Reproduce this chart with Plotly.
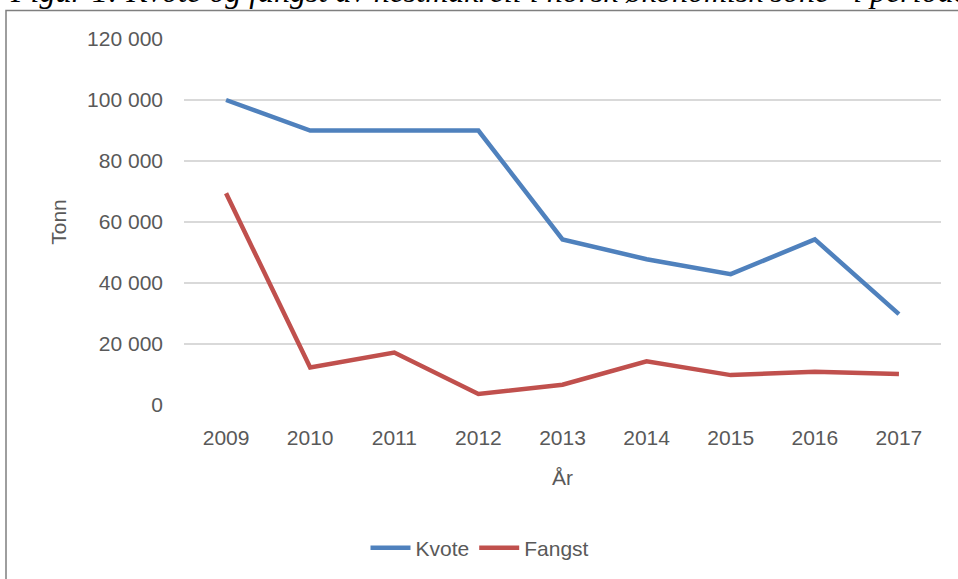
import plotly.graph_objects as go

years = ["2009", "2010", "2011", "2012", "2013", "2014", "2015", "2016", "2017"]
kvote = [100000, 90000, 90000, 90000, 54300, 47800, 42900, 54300, 29800]
fangst = [69400, 12300, 17200, 3600, 6650, 14300, 9800, 10900, 10150]
y_ticks = [0, 20000, 40000, 60000, 80000, 100000, 120000]
y_ticktext = ["0", "20 000", "40 000", "60 000", "80 000", "100 000", "120 000"]

W, H = 958, 579
L, R, T, B = 184, 17, 39, 173
pw, ph = W - L - R, H - T - B

def px(x):
    return (x - L) / pw

def py(y):
    return 1 + (T - y) / ph

font = "Liberation Sans"
grey = "#595959"

fig = go.Figure()
fig.add_trace(go.Scatter(x=years, y=kvote, name="Kvote", mode="lines",
                         line=dict(color="#4F81BD", width=4.5)))
fig.add_trace(go.Scatter(x=years, y=fangst, name="Fangst", mode="lines",
                         line=dict(color="#C0504D", width=4.5)))

fig.update_layout(
    width=W, height=H,
    margin=dict(l=L, r=R, t=T, b=B),
    paper_bgcolor="white", plot_bgcolor="white",
    font=dict(family=font, size=21, color=grey),
    showlegend=True,
    legend=dict(orientation="h", x=px(480), xanchor="center", y=py(548), yanchor="middle",
                font=dict(size=21, color=grey), itemwidth=40, bgcolor="rgba(0,0,0,0)"),
    xaxis=dict(type="category", range=[-0.5, 8.5], showgrid=False, zeroline=False,
               showline=False, ticks="", ticklabelstandoff=18,
               title=dict(text="År", font=dict(size=21, color=grey), standoff=22)),
    yaxis=dict(range=[0, 120000], tickvals=y_ticks, ticktext=y_ticktext,
               showgrid=True, gridcolor="#D9D9D9", gridwidth=1.5, zeroline=False,
               showline=False, ticks="", ticklabelstandoff=20,
               title=dict(text="Tonn", font=dict(size=21, color=grey), standoff=14)),
    shapes=[dict(type="rect", xref="paper", yref="paper",
                 x0=px(6), x1=px(1000), y0=py(10.5), y1=py(700),
                 line=dict(color="#7F7F7F", width=1.5), fillcolor="rgba(0,0,0,0)", layer="below")],
    annotations=[dict(text="Figur 1: Kvote og fangst av hestmakrell i norsk økonomisk sone* i perioden 2009-2017",
                      xref="paper", yref="paper", x=px(8), y=py(-9), xanchor="left", yanchor="middle",
                      showarrow=False,
                      font=dict(family="Liberation Serif", size=32, color="black", style="italic"))],
)

fig.write_html("out.html", config={"displayModeBar": False},
               post_script="document.body.style.margin='0';")
